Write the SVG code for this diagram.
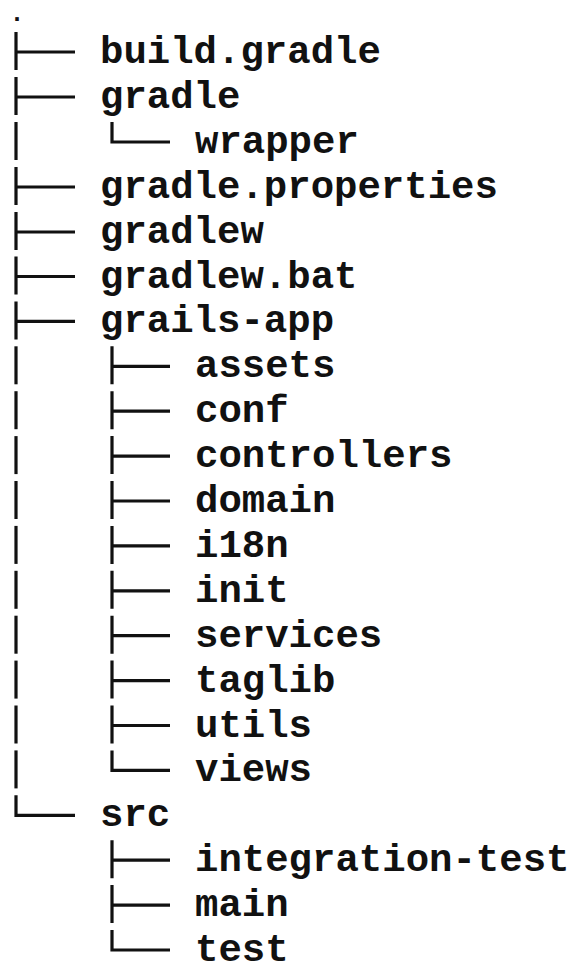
<svg xmlns="http://www.w3.org/2000/svg" width="587" height="976" viewBox="0 0 587 976">
  <style>
    .t { font-family: "Liberation Mono", "Courier New", monospace; font-weight: bold; font-size: 39px; fill: #111; }
    .dot { font-family: "Liberation Mono", "Courier New", monospace; font-weight: bold; font-size: 25px; fill: #111; }
    .c { stroke: #111; stroke-width: 3.2; fill: none; stroke-linecap: butt; }
  </style>
  <rect width="587" height="976" fill="#fff"/>

  <!-- tree connectors: level 1 at x=16, level 2 at x=112 -->
  <g id="connectors" class="c">
    <!-- level 1 -->
    <path d="M16 32 V70 M16 52 H75"/>
    <path d="M16 77 V115 M16 97 H75"/>
    <path d="M16 122 V160"/>
    <path d="M16 167 V205 M16 187 H75"/>
    <path d="M16 212 V250 M16 232 H75"/>
    <path d="M16 256.5 V294.5 M16 276.5 H75"/>
    <path d="M16 301.4 V339.4 M16 321.4 H75"/>
    <path d="M16 346.3 V384.3"/>
    <path d="M16 391.2 V429.2"/>
    <path d="M16 436.1 V474.1"/>
    <path d="M16 481 V519"/>
    <path d="M16 525.9 V563.9"/>
    <path d="M16 570.8 V608.8"/>
    <path d="M16 615.7 V653.7"/>
    <path d="M16 660.6 V698.6"/>
    <path d="M16 705.5 V743.5"/>
    <path d="M16 750.4 V788.4"/>
    <path d="M16 795.3 V815.3 H75"/>
    <!-- level 2 under gradle -->
    <path d="M112 122 V142 H170"/>
    <!-- level 2 under grails-app -->
    <path d="M112 346.3 V384.3 M112 366.3 H170"/>
    <path d="M112 391.2 V429.2 M112 411.2 H170"/>
    <path d="M112 436.1 V474.1 M112 456.1 H170"/>
    <path d="M112 481 V519 M112 501 H170"/>
    <path d="M112 525.9 V563.9 M112 545.9 H170"/>
    <path d="M112 570.8 V608.8 M112 590.8 H170"/>
    <path d="M112 615.7 V653.7 M112 635.7 H170"/>
    <path d="M112 660.6 V698.6 M112 680.6 H170"/>
    <path d="M112 705.5 V743.5 M112 725.5 H170"/>
    <path d="M112 750.4 V770.4 H170"/>
    <!-- level 2 under src -->
    <path d="M112 840.2 V878.2 M112 860.2 H170"/>
    <path d="M112 885.1 V923.1 M112 905.1 H170"/>
    <path d="M112 930 V950 H170"/>
  </g>

  <g id="root"><text class="dot" x="9.5" y="21">.</text></g>
  <g id="build-gradle"><text class="t" x="100" y="63">build.gradle</text></g>
  <g id="gradle"><text class="t" x="100" y="108">gradle</text></g>
  <g id="wrapper"><text class="t" x="195" y="153">wrapper</text></g>
  <g id="gradle-properties"><text class="t" x="100" y="198">gradle.properties</text></g>
  <g id="gradlew"><text class="t" x="100" y="243">gradlew</text></g>
  <g id="gradlew-bat"><text class="t" x="100" y="287.5">gradlew.bat</text></g>
  <g id="grails-app"><text class="t" x="100" y="332.4">grails-app</text></g>
  <g id="assets"><text class="t" x="195" y="377.3">assets</text></g>
  <g id="conf"><text class="t" x="195" y="422.2">conf</text></g>
  <g id="controllers"><text class="t" x="195" y="467.1">controllers</text></g>
  <g id="domain"><text class="t" x="195" y="512">domain</text></g>
  <g id="i18n"><text class="t" x="195" y="556.9">i18n</text></g>
  <g id="init"><text class="t" x="195" y="601.8">init</text></g>
  <g id="services"><text class="t" x="195" y="646.7">services</text></g>
  <g id="taglib"><text class="t" x="195" y="691.6">taglib</text></g>
  <g id="utils"><text class="t" x="195" y="736.5">utils</text></g>
  <g id="views"><text class="t" x="195" y="781.4">views</text></g>
  <g id="src"><text class="t" x="100" y="826.3">src</text></g>
  <g id="integration-test"><text class="t" x="195" y="871.2">integration-test</text></g>
  <g id="main"><text class="t" x="195" y="916.1">main</text></g>
  <g id="test"><text class="t" x="195" y="961">test</text></g>
</svg>
